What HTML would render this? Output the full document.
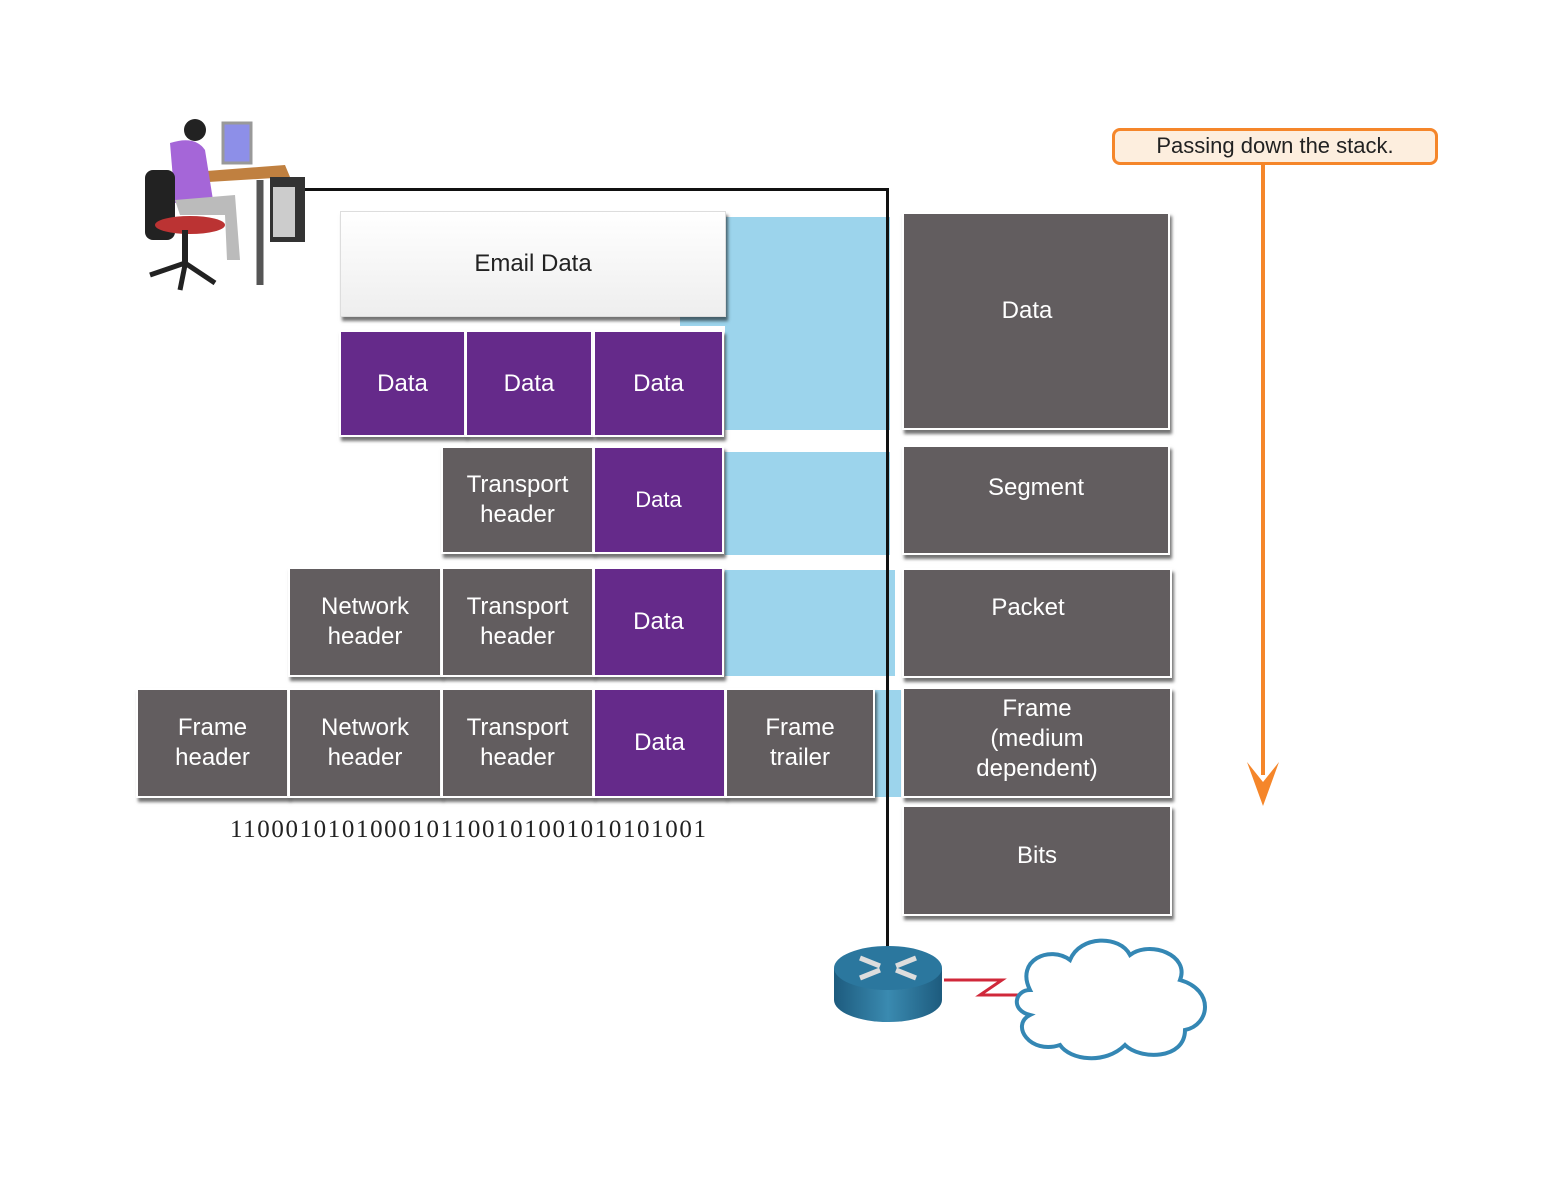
<!DOCTYPE html>
<html><head><style>
body{margin:0;width:1554px;height:1178px;background:#fff;position:relative;overflow:hidden;font-family:"Liberation Sans",sans-serif}
.b{position:absolute;box-sizing:border-box;display:flex;align-items:center;justify-content:center;text-align:center;color:#fff;font-size:24px;line-height:30px;border:2px solid #fff;box-shadow:2px 4px 3px rgba(0,0,0,.55)}
.g{background:#625d5f}
.p{background:#652a8a}
.bl{position:absolute;background:#9cd4ec}
</style></head><body>
<div class="bl" style="left:725px;top:217px;width:165px;height:213px"></div>
<div class="bl" style="left:680px;top:300px;width:60px;height:26px"></div>
<div class="bl" style="left:725px;top:452px;width:165px;height:103px"></div>
<div class="bl" style="left:725px;top:570px;width:170px;height:106px"></div>
<div class="bl" style="left:873px;top:690px;width:28px;height:107px"></div>
<div style="position:absolute;left:300px;top:188px;width:589px;height:3px;background:#111"></div>
<div style="position:absolute;left:886px;top:188px;width:3px;height:760px;background:#111"></div>

<div class="b" style="left:340px;top:211px;width:386px;height:106px;background:linear-gradient(#fff,#eee);color:#222;border:1px solid #ddd">Email Data</div>

<div class="b p" style="left:339px;top:330px;width:127px;height:107px">Data</div>
<div class="b p" style="left:465px;top:330px;width:128px;height:107px">Data</div>
<div class="b p" style="left:593px;top:330px;width:131px;height:107px">Data</div>

<div class="b g" style="left:441px;top:446px;width:153px;height:108px">Transport<br>header</div>
<div class="b p" style="left:593px;top:446px;width:131px;height:108px;font-size:22px">Data</div>

<div class="b g" style="left:288px;top:567px;width:154px;height:110px">Network<br>header</div>
<div class="b g" style="left:441px;top:567px;width:153px;height:110px">Transport<br>header</div>
<div class="b p" style="left:593px;top:567px;width:131px;height:110px">Data</div>

<div class="b g" style="left:136px;top:688px;width:153px;height:110px">Frame<br>header</div>
<div class="b g" style="left:288px;top:688px;width:154px;height:110px">Network<br>header</div>
<div class="b g" style="left:441px;top:688px;width:153px;height:110px">Transport<br>header</div>
<div class="b p" style="left:593px;top:688px;width:133px;height:110px">Data</div>
<div class="b g" style="left:725px;top:688px;width:150px;height:110px">Frame<br>trailer</div>

<div style="position:absolute;left:230px;top:816px;font-family:'Liberation Serif',serif;font-size:25px;letter-spacing:1.6px;color:#222">1100010101000101100101001010101001</div>

<div class="b g" style="left:902px;top:212px;width:268px;height:218px;padding-bottom:20px;padding-right:18px">Data</div>
<div class="b g" style="left:902px;top:445px;width:268px;height:110px;padding-bottom:25px">Segment</div>
<div class="b g" style="left:902px;top:568px;width:270px;height:110px;padding-bottom:30px;padding-right:18px">Packet</div>
<div class="b g" style="left:902px;top:687px;width:270px;height:111px;padding-bottom:8px">Frame<br>(medium<br>dependent)</div>
<div class="b g" style="left:902px;top:805px;width:270px;height:111px;padding-bottom:10px">Bits</div>

<div style="position:absolute;left:1112px;top:128px;width:326px;height:37px;box-sizing:border-box;border:3px solid #f5862a;border-radius:8px;background:#fdeede;font-size:22px;line-height:29px;color:#222;text-align:center">Passing down the stack.</div>
<div style="position:absolute;left:1261px;top:165px;width:4px;height:610px;background:#f5862a"></div>
<svg style="position:absolute;left:1245px;top:760px" width="40" height="50"><path d="M2 2 L18 46 L34 2 L18 22 Z" fill="#f5862a"/></svg>

<svg style="position:absolute;left:135px;top:115px" width="180" height="180">
<rect x="88" y="8" width="28" height="40" fill="#8d8fe8" stroke="#999" stroke-width="3"/>
<polygon points="20,60 150,50 155,62 25,70" fill="#c08040"/>
<rect x="135" y="62" width="35" height="65" fill="#333"/>
<rect x="138" y="72" width="22" height="50" fill="#ccc"/>
<line x1="125" y1="65" x2="125" y2="170" stroke="#555" stroke-width="7"/>
<circle cx="60" cy="15" r="11" fill="#222"/>
<path d="M35 28 Q60 20 70 35 L78 85 L40 88 Z" fill="#a566d8"/>
<path d="M40 85 L100 80 L105 145 L92 145 L90 100 L45 100 Z" fill="#bbb"/>
<rect x="10" y="55" width="30" height="70" rx="8" fill="#222"/>
<ellipse cx="55" cy="110" rx="35" ry="9" fill="#b33"/>
<line x1="50" y1="115" x2="50" y2="150" stroke="#222" stroke-width="6"/>
<path d="M15 160 L50 148 L80 168 M50 150 L45 175" stroke="#222" stroke-width="5" fill="none"/>
</svg>

<svg style="position:absolute;left:830px;top:940px" width="120" height="90">
<defs><linearGradient id="r" x1="0" x2="1"><stop offset="0" stop-color="#1d5b7e"/><stop offset=".5" stop-color="#3a8ab0"/><stop offset="1" stop-color="#1d5b7e"/></linearGradient></defs>
<path d="M4 28 L4 60 A54 22 0 0 0 112 60 L112 28 Z" fill="url(#r)"/>
<ellipse cx="58" cy="28" rx="54" ry="22" fill="#2b779e"/>
<path d="M30 18 L50 26 M86 18 L66 26 M30 38 L50 30 M86 38 L66 30" stroke="#ddd" stroke-width="5"/>
</svg>
<svg style="position:absolute;left:940px;top:930px" width="280" height="140">
<path d="M4 50 L62 50 L40 65 L78 65" stroke="#d0283a" stroke-width="3" fill="none"/>
<path d="M90 60 C75 30 110 15 130 30 C140 5 180 5 190 25 C210 10 250 25 240 50 C275 60 270 95 245 100 C245 130 200 130 185 115 C165 135 130 130 120 115 C90 125 70 95 90 85 C70 80 75 60 90 60 Z" fill="#fff" stroke="#3487b4" stroke-width="4"/>
</svg>
</body></html>
